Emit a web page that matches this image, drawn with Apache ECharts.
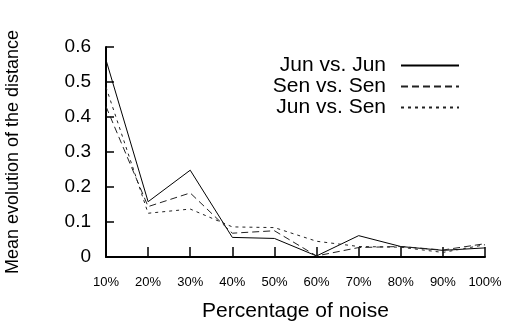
<!DOCTYPE html>
<html><head><meta charset="utf-8">
<script src="https://cdn.jsdelivr.net/npm/echarts@6/dist/echarts.min.js"></script>
<style>html,body{margin:0;padding:0;background:#fff}#c{width:507px;height:324px}</style>
</head><body><div id="c"></div>
<script>
const categories = ['10%','20%','30%','40%','50%','60%','70%','80%','90%','100%'];
const junJun = [0.563,0.158,0.248,0.056,0.053,0.003,0.061,0.030,0.019,0.026];
const senSen = [0.430,0.144,0.183,0.068,0.075,0.003,0.027,0.030,0.020,0.038];
const junSen = [0.485,0.125,0.137,0.086,0.084,0.045,0.030,0.028,0.013,0.035];
const yTicks = [0,0.1,0.2,0.3,0.4,0.5,0.6];
const names = ['Jun vs. Jun','Sen vs. Sen','Jun vs. Sen'];

const font = 'Liberation Sans, Arial, sans-serif';
const chart = echarts.init(document.getElementById('c'));
const mkLegend = (name, top) => ({
  data:[name], right:47, top:top, orient:'vertical', align:'right',
  itemWidth:58, itemHeight:10, padding:0,
  itemStyle:{opacity:0, borderWidth:0},
  textStyle:{fontFamily:font, fontSize:21, color:'#000', padding:[0,10,0,0]}
});
const mkSeries = (name, data, type, color) => ({
  name, type:'line', data, symbol:'none', showSymbol:false,
  lineStyle:{color, width:1, type}, itemStyle:{color},
  animation:false
});
chart.setOption({
  animation:false,
  grid:{left:106, right:22, top:47, bottom:67, outerBoundsMode:'none', containLabel:false},
  legend:[mkLegend(names[0],55), mkLegend(names[1],76), mkLegend(names[2],97)],
  xAxis:{type:'category', data:categories, boundaryGap:false,
    name:'Percentage of noise', nameLocation:'middle', nameGap:44,
    nameTextStyle:{fontFamily:font, fontSize:21, color:'#000'},
    axisLine:{lineStyle:{color:'#000', width:2}},
    axisTick:{inside:true, length:10, interval:0, lineStyle:{color:'#000', width:1.5}, alignWithLabel:true},
    axisLabel:{fontFamily:font, fontSize:13, color:'#000', margin:19, interval:0},
    splitLine:{show:false}},
  yAxis:{type:'value', min:0, max:0.6, interval:0.1,
    name:'Mean evolution of the distance', nameLocation:'middle', nameGap:84,
    nameTextStyle:{fontFamily:font, fontSize:18, color:'#000'},
    axisLine:{show:true, lineStyle:{color:'#000', width:2}},
    axisTick:{show:true, inside:true, length:8, lineStyle:{color:'#000', width:1.5}},
    axisLabel:{fontFamily:font, fontSize:19, color:'#000', margin:15,
      formatter:v=>String(Math.round(v*10)/10)},
    splitLine:{show:false}},
  series:[
    mkSeries(names[0], junJun, 'solid', '#000'),
    mkSeries(names[1], senSen, [7,4], '#222'),
    mkSeries(names[2], junSen, [3,4], '#222')
  ]
});
</script></body></html>
